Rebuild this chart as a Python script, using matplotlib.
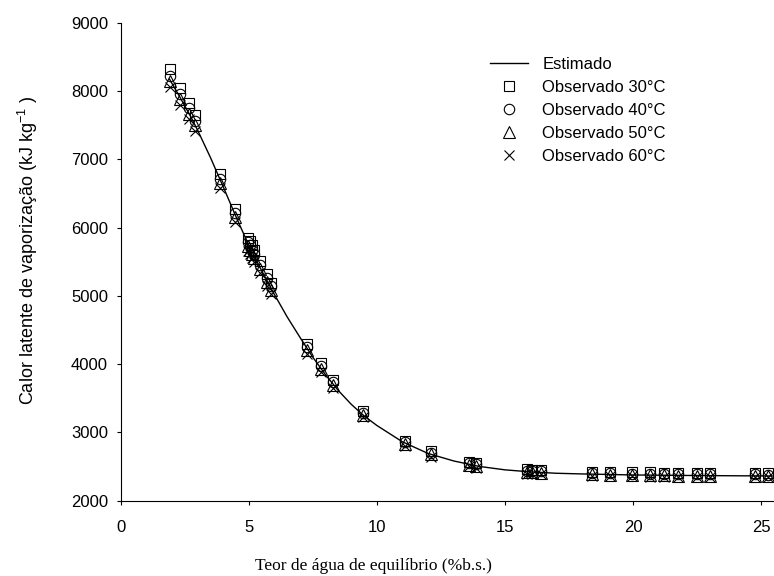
import matplotlib
matplotlib.use("Agg")
import matplotlib.pyplot as plt

plt.rcParams['font.family'] = ['Liberation Sans', 'DejaVu Sans']
plt.rcParams['mathtext.default'] = 'regular'

# teor de agua de equilibrio (%b.s.)
teor = [1.93, 2.32, 2.65, 2.91, 3.89, 4.47, 4.97, 5.05, 5.13, 5.22, 5.45, 5.72, 5.88,
        7.28, 7.8, 8.3, 9.45, 11.1, 12.1, 13.6, 13.85, 15.85, 16.05, 16.4, 18.4, 19.1,
        19.97, 20.65, 21.2, 21.75, 22.5, 23.0, 24.75, 25.25]

obs_30 = [8320, 8050, 7830, 7650, 6780, 6270, 5850, 5800, 5740, 5680, 5510, 5320, 5190,
          4290, 4010, 3770, 3310, 2880, 2720, 2570, 2550, 2460, 2455, 2450, 2425, 2420,
          2415, 2412, 2410, 2408, 2406, 2405, 2402, 2400]
obs_40 = [8230, 7960, 7750, 7570, 6720, 6210, 5790, 5740, 5680, 5620, 5450, 5260, 5140,
          4250, 3970, 3735, 3285, 2860, 2700, 2550, 2530, 2440, 2435, 2430, 2405, 2400,
          2395, 2392, 2390, 2388, 2386, 2385, 2382, 2381]
obs_50 = [8150, 7880, 7670, 7500, 6660, 6150, 5730, 5680, 5620, 5560, 5400, 5210, 5090,
          4200, 3925, 3695, 3255, 2835, 2675, 2525, 2505, 2420, 2415, 2410, 2385, 2380,
          2373, 2370, 2368, 2366, 2364, 2363, 2360, 2359]
obs_60 = [8060, 7800, 7590, 7420, 6580, 6080, 5660, 5610, 5550, 5490, 5340, 5150, 5030,
          4150, 3880, 3650, 3220, 2800, 2645, 2500, 2480, 2395, 2392, 2388, 2365, 2360,
          2353, 2350, 2348, 2346, 2344, 2343, 2340, 2339]

# curva estimada
est_x = [1.9, 2.3, 2.7, 3.0, 3.5, 4.0, 4.5, 5.0, 5.5, 6.0, 6.5, 7.0, 7.5, 8.0, 8.5, 9.0,
         9.5, 10, 11, 12, 13, 14, 15, 16, 17, 18, 20, 22, 24, 25.5]
est_y = [8180, 7920, 7650, 7430, 7030, 6600, 6160, 5740, 5370, 5020, 4690, 4390, 4100,
         3840, 3610, 3410, 3240, 3100, 2860, 2690, 2580, 2500, 2450, 2420, 2400, 2390,
         2375, 2368, 2363, 2360]

fig = plt.figure(figsize=(7.74, 5.76), dpi=100)
ax = fig.add_axes([0.156, 0.131, 0.844, 0.829])

ax.plot(est_x, est_y, color='black', lw=1.0, label='Estimado', zorder=3)
mk = dict(linestyle='none', color='black', mfc='none', mew=0.8, zorder=4)
ax.plot(teor, obs_30, marker='s', ms=7.5, label='Observado 30°C', **mk)
ax.plot(teor, obs_40, marker='o', ms=7.5, label='Observado 40°C', **mk)
ax.plot(teor, obs_50, marker='^', ms=8, label='Observado 50°C', **mk)
ax.plot(teor, obs_60, marker='x', ms=7, label='Observado 60°C', **mk)

ax.set_xlim(0, 25.5)
ax.set_ylim(2000, 9000)
ax.set_xticks([0, 5, 10, 15, 20, 25])
ax.set_yticks(range(2000, 9001, 1000))
ax.spines['top'].set_visible(False)
ax.spines['right'].set_visible(False)
ax.tick_params(direction='out', length=3.1, width=0.8, labelsize=12)
ax.tick_params(axis='y', pad=6)
ax.tick_params(axis='x', pad=11)

fig.text(0.036, 0.566, 'Calor latente de vaporização (kJ kg$^{-1}$ )', rotation=90,
         ha='center', va='center', fontsize=13)
fig.text(0.483, 0.018, 'Teor de água de equilíbrio (%b.s.)', ha='center', va='center',
         fontsize=12.5, family=['Liberation Serif', 'DejaVu Serif'])

fig.legend(loc='upper left', bbox_to_anchor=(0.633, 0.901), frameon=False, fontsize=12,
           handlelength=2.3, handletextpad=0.85, labelspacing=0.48, borderpad=0,
           borderaxespad=0)

fig.savefig('out.png', dpi=100)
